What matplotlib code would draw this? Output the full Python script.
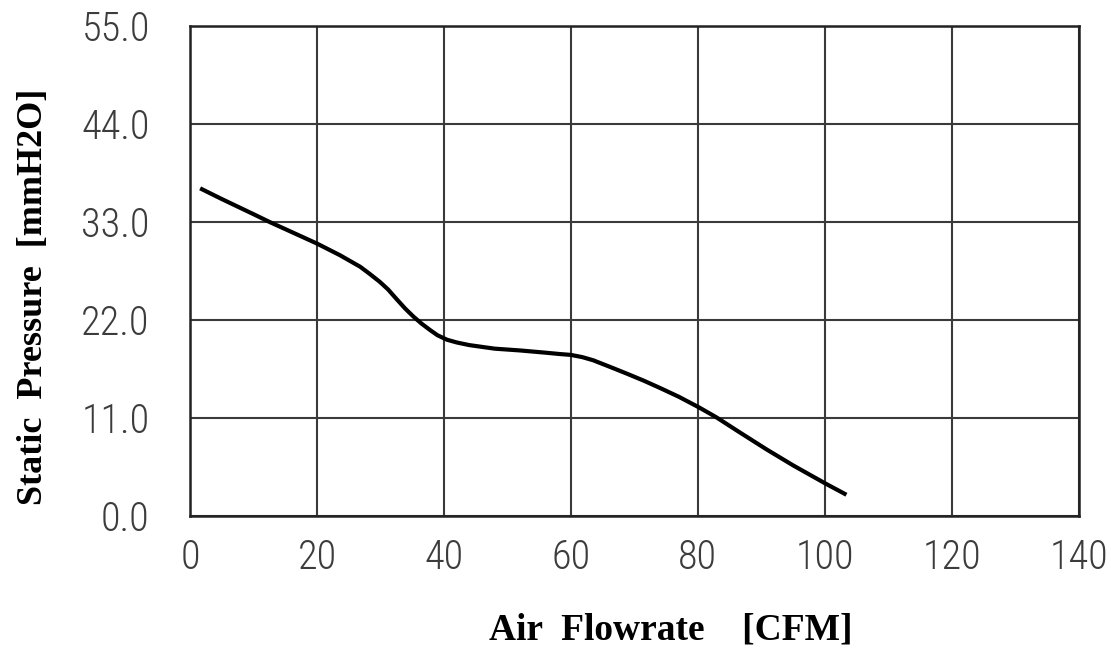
import matplotlib
matplotlib.use("Agg")
import matplotlib.pyplot as plt

# fan curve
flow = [1.6, 5, 10, 12.6, 16, 20, 23.6, 26.8, 28.3, 29.9, 31.2, 32.5, 33.9, 35.2, 36.5,
        37.8, 39.0, 40.5, 42, 44, 48, 52, 56, 58.2, 60, 61.8, 63.5, 66, 68.8, 71.5, 74,
        77, 80.2, 82.9, 86.6, 90.8, 95, 100, 103.4]
pressure = [36.8, 35.6, 33.9, 33.0, 31.9, 30.6, 29.3, 28.0, 27.2, 26.3, 25.45, 24.4, 23.3, 22.4, 21.6,
            20.9, 20.3, 19.8, 19.5, 19.2, 18.8, 18.6, 18.35, 18.2, 18.1, 17.85, 17.5, 16.8, 16.0, 15.2, 14.4,
            13.4, 12.2, 11.1, 9.4, 7.5, 5.7, 3.7, 2.4]
xticks = [0, 20, 40, 60, 80, 100, 120, 140]
yticks = [0.0, 11.0, 22.0, 33.0, 44.0, 55.0]

fig = plt.figure(figsize=(11.11, 6.55), dpi=100)
ax = fig.add_axes([0.171, 0.212, 0.8, 0.748])
ax.plot(flow, pressure, color="black", lw=3.0, solid_capstyle="butt",
        solid_joinstyle="round", zorder=3)

ax.set_xlim(0, 140)
ax.set_ylim(0, 55)
ax.set_xticks(xticks)
ax.set_yticks(yticks)
ax.set_yticklabels([f"{v:.1f}" for v in yticks])
ax.grid(True, color="#3a3a3a", lw=1.5)
for s in ax.spines.values():
    s.set_linewidth(1.8)
    s.set_color("#222222")
ax.tick_params(length=0, labelsize=29, labelcolor="#3c3c3c")
ax.tick_params(axis="x", pad=16)
ax.tick_params(axis="y", pad=29)
for lbl in ax.get_xticklabels() + ax.get_yticklabels():
    lbl.set_family(["Roboto Condensed", "Roboto"])
    lbl.set_fontweight("light")

fig.text(0.604, 0.038, "Air  Flowrate    [CFM]", ha="center", va="center",
         fontsize=27, fontweight="bold", family="Liberation Serif")
fig.text(0.030, 0.546, "Static  Pressure  [mmH2O]", ha="center", va="center", rotation=90,
         fontsize=26, fontweight="bold", family="Liberation Serif")

fig.savefig("out.png", dpi=100)
